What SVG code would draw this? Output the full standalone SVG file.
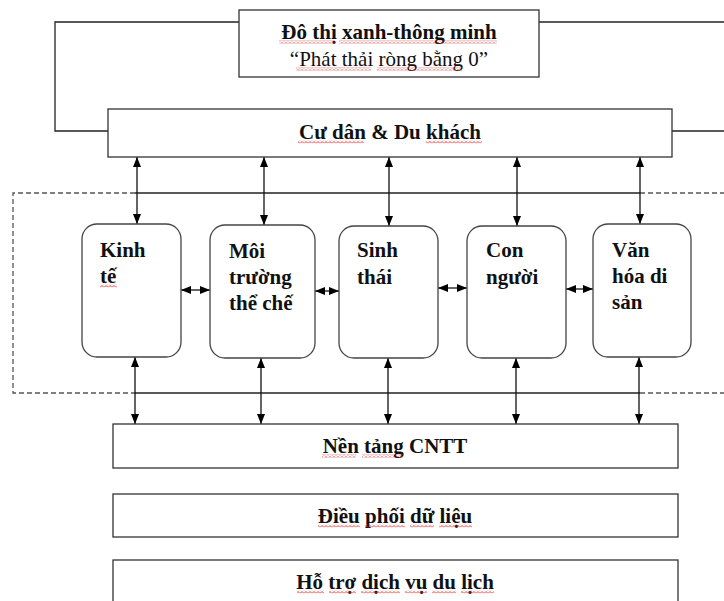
<svg xmlns="http://www.w3.org/2000/svg" width="724" height="601" viewBox="0 0 724 601">
  <style>
    .box { fill: #fff; stroke: #333; stroke-width: 1.3; }
    .rbox { fill: #fff; stroke: #444; stroke-width: 1.3; }
    .lbl { font-family: "Liberation Serif", "Times New Roman", serif; font-size: 21px; fill: #111; }
    .b { font-weight: bold; }
    .line { fill: none; stroke: #222; stroke-width: 1.3; }
    .dash { fill: none; stroke: #555; stroke-width: 1.3; stroke-dasharray: 5 3; }
    .arr { fill: none; stroke: #111; stroke-width: 1.3; marker-start: url(#head); marker-end: url(#head); }
    .sq { fill: url(#wave); }
  </style>
  <defs>
    <marker id="head" viewBox="0 0 10 8" refX="10" refY="4" markerWidth="10" markerHeight="8" markerUnits="userSpaceOnUse" orient="auto-start-reverse">
      <path d="M0,0 L10,4 L0,8 z" fill="#000"/>
    </marker>
    <pattern id="wave" width="4" height="3" patternUnits="userSpaceOnUse">
      <path d="M0,2.5 L2,0.5 L4,2.5" fill="none" stroke="#e02020" stroke-width="0.9"/>
    </pattern>
  </defs>

  <!-- connectors -->
  <g id="connectors">
    <!-- loop from the top box to the residents bar -->
    <path class="line" d="M239,22 H55 V131 H108"/>
    <path class="line" d="M539,22 H724"/>
    <path class="line" d="M672,131 H724"/>
    <!-- dashed frame around the five pillars -->
    <path class="dash" d="M135,193 H13 V393 H135"/>
    <path class="dash" d="M640,193 H724"/>
    <path class="dash" d="M640,393 H724"/>
    <path class="line" d="M135,193 H640"/>
    <path class="line" d="M135,393 H640"/>
    <!-- residents bar to pillars -->
    <line class="arr" x1="137" y1="157" x2="137" y2="224"/>
    <line class="arr" x1="264" y1="157" x2="264" y2="225"/>
    <line class="arr" x1="389" y1="157" x2="389" y2="226"/>
    <line class="arr" x1="517" y1="157" x2="517" y2="226"/>
    <line class="arr" x1="640" y1="157" x2="640" y2="224"/>
    <!-- pillars to IT platform -->
    <line class="arr" x1="135" y1="357" x2="135" y2="424"/>
    <line class="arr" x1="261" y1="358" x2="261" y2="424"/>
    <line class="arr" x1="388" y1="358" x2="388" y2="424"/>
    <line class="arr" x1="516" y1="358" x2="516" y2="424"/>
    <line class="arr" x1="639" y1="357" x2="639" y2="424"/>
    <!-- links between neighbouring pillars -->
    <line class="arr" x1="181" y1="290" x2="210" y2="290"/>
    <line class="arr" x1="315" y1="291" x2="339" y2="291"/>
    <line class="arr" x1="438" y1="288" x2="467" y2="288"/>
    <line class="arr" x1="566" y1="289" x2="593" y2="289"/>
  </g>

  <g id="do-thi">
    <rect class="box" x="239" y="10" width="300" height="67"/>
    <text class="lbl b" x="389" y="39" text-anchor="middle">Đô thị xanh-thông minh</text>
    <text class="lbl" x="389" y="66" text-anchor="middle">“Phát thải ròng bằng 0”</text>
    <rect class="sq" x="279" y="40.5" width="56" height="3"/>
    <rect class="sq" x="339" y="40.5" width="158" height="3"/>
    <rect class="sq" x="296" y="67.5" width="75" height="3"/>
    <rect class="sq" x="377" y="67.5" width="85" height="3"/>
  </g>

  <g id="cu-dan">
    <rect class="box" x="108" y="109" width="564" height="48"/>
    <text class="lbl b" x="390" y="139" text-anchor="middle">Cư dân &amp; Du khách</text>
    <rect class="sq" x="298" y="140.5" width="66" height="3"/>
    <rect class="sq" x="426" y="140.5" width="56" height="3"/>
  </g>

  <g id="kinh-te">
    <rect class="rbox" x="82" y="224" width="99" height="133" rx="15"/>
    <text class="lbl b" x="100" y="257">Kinh</text>
    <text class="lbl b" x="100" y="283">tế</text>
    <rect class="sq" x="100" y="284.5" width="17" height="3"/>
  </g>

  <g id="moi-truong">
    <rect class="rbox" x="210" y="225" width="105" height="133" rx="15"/>
    <text class="lbl b" x="229" y="258">Môi</text>
    <text class="lbl b" x="229" y="284">trường</text>
    <text class="lbl b" x="229" y="310">thể chế</text>
  </g>

  <g id="sinh-thai">
    <rect class="rbox" x="339" y="226" width="99" height="132" rx="15"/>
    <text class="lbl b" x="357" y="257">Sinh</text>
    <text class="lbl b" x="357" y="284">thái</text>
  </g>

  <g id="con-nguoi">
    <rect class="rbox" x="467" y="226" width="99" height="132" rx="15"/>
    <text class="lbl b" x="486" y="257">Con</text>
    <text class="lbl b" x="486" y="284">người</text>
  </g>

  <g id="van-hoa">
    <rect class="rbox" x="593" y="224" width="98" height="133" rx="15"/>
    <text class="lbl b" x="612" y="257">Văn</text>
    <text class="lbl b" x="612" y="283">hóa di</text>
    <text class="lbl b" x="612" y="309">sản</text>
  </g>

  <g id="nen-tang">
    <rect class="box" x="113" y="424" width="565" height="44"/>
    <text class="lbl b" x="395" y="453" text-anchor="middle">Nền tảng CNTT</text>
    <rect class="sq" x="322" y="454.5" width="34" height="3"/>
    <rect class="sq" x="362" y="454.5" width="41" height="3"/>
  </g>

  <g id="dieu-phoi">
    <rect class="box" x="113" y="494" width="565" height="43"/>
    <text class="lbl b" x="395" y="523" text-anchor="middle">Điều phối dữ liệu</text>
    <rect class="sq" x="318" y="524.5" width="42" height="3"/>
    <rect class="sq" x="365" y="524.5" width="40" height="3"/>
    <rect class="sq" x="410" y="524.5" width="24" height="3"/>
    <rect class="sq" x="439" y="524.5" width="33" height="3"/>
  </g>

  <g id="ho-tro">
    <rect class="box" x="113" y="560" width="565" height="50"/>
    <text class="lbl b" x="395" y="589" text-anchor="middle">Hỗ trợ dịch vụ du lịch</text>
    <rect class="sq" x="297" y="590.5" width="27" height="3"/>
    <rect class="sq" x="329" y="590.5" width="27" height="3"/>
    <rect class="sq" x="361" y="590.5" width="39" height="3"/>
    <rect class="sq" x="405" y="590.5" width="22" height="3"/>
    <rect class="sq" x="432" y="590.5" width="24" height="3"/>
    <rect class="sq" x="461" y="590.5" width="33" height="3"/>
  </g>
</svg>
